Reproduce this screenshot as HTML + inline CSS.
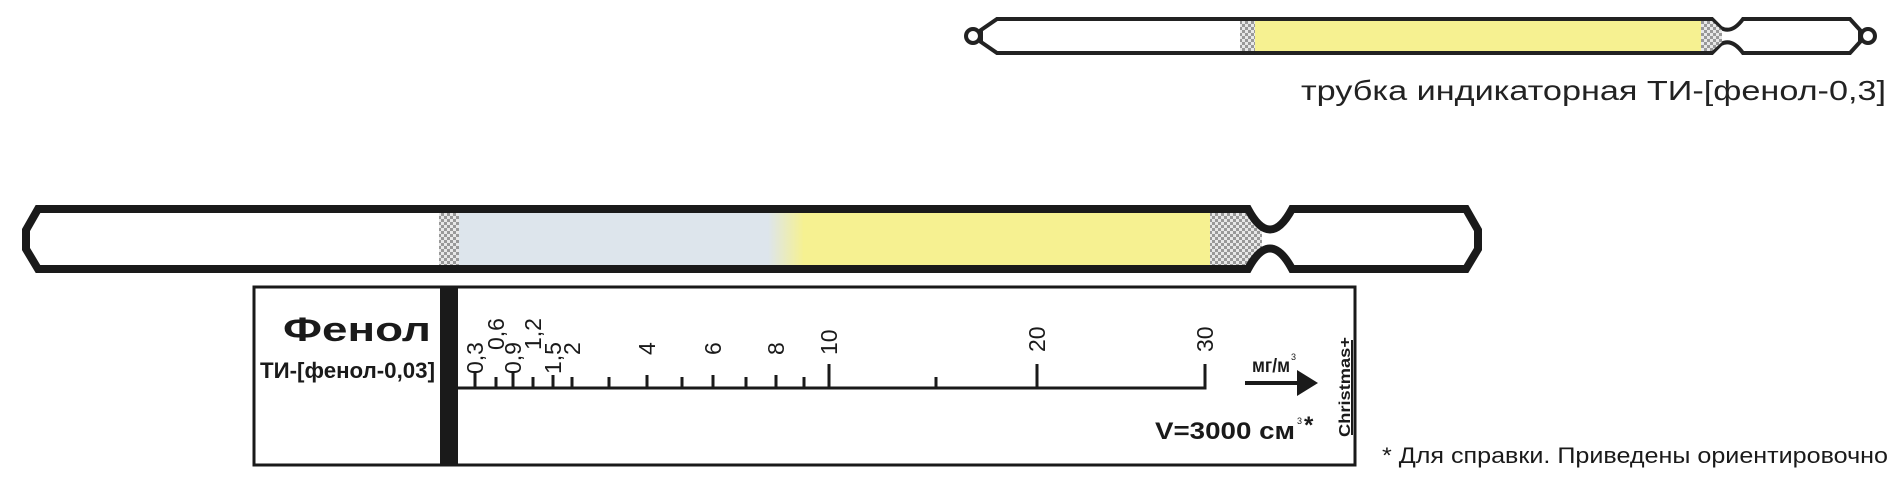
<!DOCTYPE html>
<html><head><meta charset="utf-8"><style>
html,body{margin:0;padding:0;background:#fff;}
svg{display:block;}
text{font-family:"Liberation Sans",sans-serif;}
</style></head><body>
<svg width="1901" height="489" viewBox="0 0 1901 489" xmlns="http://www.w3.org/2000/svg">
<defs>
<pattern id="chk" width="6" height="6" patternUnits="userSpaceOnUse">
<rect width="6" height="6" fill="#e8e8e8"/><rect width="3" height="3" fill="#999"/><rect x="3" y="3" width="3" height="3" fill="#999"/>
</pattern>
<linearGradient id="grad" x1="0" x2="1">
<stop offset="0" stop-color="#dde5ec"/><stop offset="1" stop-color="#f6f191"/>
</linearGradient>
</defs>

<!-- small tube -->
<g>
<path d="M981 30 L997 19 L1712 19 L1721 28 Q1732 34 1743 19 L1850 19 L1860 30 L1860 42 L1850 53 L1743 53 Q1732 38 1721 44 L1712 53 L997 53 L981 42 Z" fill="#fff" stroke="#222" stroke-width="4"/>
<rect x="1240" y="21" width="15" height="30" fill="url(#chk)"/>
<rect x="1255" y="21" width="446" height="30" fill="#f6f191"/>
<path d="M1701 21 L1712 21 L1722 30 L1722 42 L1712 51 L1701 51 Z" fill="url(#chk)"/>
<circle cx="973" cy="36" r="7" fill="#fff" stroke="#222" stroke-width="4"/>
<circle cx="1868" cy="36" r="7" fill="#fff" stroke="#222" stroke-width="4"/>
</g>
<text x="1886" y="100" font-size="28" text-anchor="end" fill="#222" textLength="585" lengthAdjust="spacingAndGlyphs">трубка индикаторная ТИ-[фенол-0,3]</text>

<!-- big tube -->
<g>
<rect x="439" y="212" width="20" height="55" fill="url(#chk)"/>
<rect x="459" y="212" width="310" height="55" fill="#dde5ec"/>
<rect x="768" y="212" width="36" height="55" fill="url(#grad)"/>
<rect x="803" y="212" width="408" height="55" fill="#f6f191"/>
<path d="M1210 212 L1250 212 L1262 230 L1262 250 L1250 267 L1210 267 Z" fill="url(#chk)"/>
<path d="M38 209 L1248 209 Q1270 250 1292 209 L1466 209 L1478 230 L1478 249 L1466 269 L1292 269 Q1270 228 1248 269 L38 269 L26 249 L26 230 Z" fill="none" stroke="#1a1a1a" stroke-width="8"/>
</g>

<!-- scale box -->
<rect x="254" y="287" width="1101" height="178" fill="#fff" stroke="#1a1a1a" stroke-width="3"/>
<rect x="440" y="287" width="18" height="178" fill="#1a1a1a"/>
<text x="283" y="341" font-size="34" font-weight="bold" fill="#1a1a1a" textLength="148" lengthAdjust="spacingAndGlyphs">Фенол</text>
<text x="260" y="378" font-size="22" font-weight="bold" fill="#1a1a1a" textLength="175" lengthAdjust="spacingAndGlyphs">ТИ-[фенол-0,03]</text>

<!-- scale line -->
<path d="M458 388 L1205 388 L1205 364" fill="none" stroke="#1a1a1a" stroke-width="3"/>
<g stroke="#1a1a1a" stroke-width="3">
<line x1="475" y1="388" x2="475" y2="372"/>
<line x1="496" y1="388" x2="496" y2="377"/>
<line x1="513" y1="388" x2="513" y2="372"/>
<line x1="533" y1="388" x2="533" y2="377"/>
<line x1="553" y1="388" x2="553" y2="375"/>
<line x1="572" y1="388" x2="572" y2="377"/>
<line x1="609" y1="388" x2="609" y2="377"/>
<line x1="647" y1="388" x2="647" y2="375"/>
<line x1="682" y1="388" x2="682" y2="377"/>
<line x1="713" y1="388" x2="713" y2="375"/>
<line x1="746" y1="388" x2="746" y2="377"/>
<line x1="776" y1="388" x2="776" y2="375"/>
<line x1="804" y1="388" x2="804" y2="377"/>
<line x1="829" y1="388" x2="829" y2="364"/>
<line x1="936" y1="388" x2="936" y2="377"/>
<line x1="1037" y1="388" x2="1037" y2="364"/>
</g>
<g font-size="23" fill="#1a1a1a">
<text transform="translate(483,374) rotate(-90)">0,3</text>
<text transform="translate(504,350) rotate(-90)">0,6</text>
<text transform="translate(521,374) rotate(-90)">0,9</text>
<text transform="translate(541,350) rotate(-90)">1,2</text>
<text transform="translate(561,374) rotate(-90)">1,5</text>
<text transform="translate(580,355) rotate(-90)">2</text>
<text transform="translate(655,355) rotate(-90)">4</text>
<text transform="translate(721,355) rotate(-90)">6</text>
<text transform="translate(784,355) rotate(-90)">8</text>
<text transform="translate(837,355) rotate(-90)">10</text>
<text transform="translate(1045,352) rotate(-90)">20</text>
<text transform="translate(1213,352) rotate(-90)">30</text>
</g>
<text x="1252" y="372" font-size="19" font-weight="bold" fill="#1a1a1a" textLength="38" lengthAdjust="spacingAndGlyphs">мг/м</text>
<text x="1291" y="360" font-size="9" fill="#1a1a1a">3</text>
<line x1="1245" y1="383" x2="1300" y2="383" stroke="#1a1a1a" stroke-width="4"/>
<path d="M1297 370 L1318 383 L1297 396 Z" fill="#1a1a1a"/>
<text x="1155" y="439" font-size="24" font-weight="bold" fill="#1a1a1a" textLength="140" lengthAdjust="spacingAndGlyphs">V=3000 см</text>
<text x="1297" y="424" font-size="9" fill="#1a1a1a">3</text>
<text x="1304" y="433" font-size="24" font-weight="bold" fill="#1a1a1a">*</text>
<text transform="translate(1350,437) rotate(-90)" font-size="16" font-weight="bold" fill="#1a1a1a" textLength="100" lengthAdjust="spacingAndGlyphs">Christmas+</text>
<line x1="1352" y1="340" x2="1352" y2="435" stroke="#1a1a1a" stroke-width="2"/>

<text x="1382" y="463" font-size="22" fill="#1a1a1a" textLength="506" lengthAdjust="spacingAndGlyphs">* Для справки. Приведены ориентировочно</text>
</svg>
</body></html>
